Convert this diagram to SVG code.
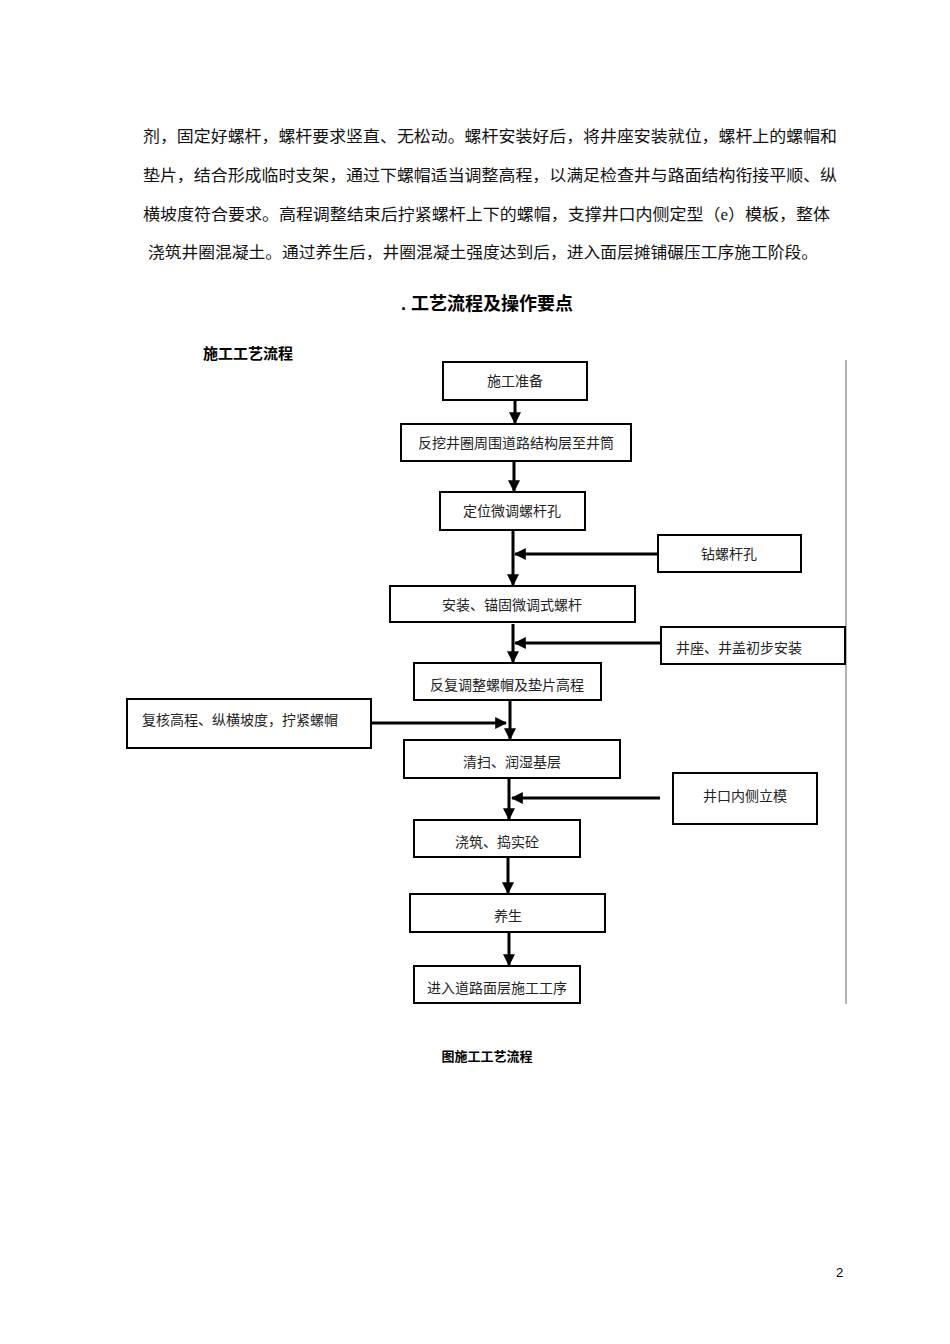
<svg xmlns="http://www.w3.org/2000/svg" width="950" height="1344" viewBox="0 0 950 1344">
<defs>
<style>
.b{fill:#fff;stroke:#000;stroke-width:2}
.t{font-family:"Liberation Serif","Noto Sans CJK SC",serif;font-size:14px;text-anchor:middle;fill:#222}
.p{font-family:"Liberation Serif","Noto Sans CJK SC",serif;font-size:16px;fill:#111}
.h{font-family:"Liberation Sans","Noto Sans CJK SC",sans-serif;font-weight:bold;fill:#000}
.c{stroke:#000;stroke-width:3;fill:none}
</style>
<marker id="a" viewBox="0 0 10 10" refX="9" refY="5" markerWidth="4" markerHeight="4" orient="auto" markerUnits="strokeWidth"><path d="M0,0 L10,5 L0,10 z" fill="#000"/></marker>
</defs>
<rect width="950" height="1344" fill="#fff"/>
<text class="p" x="143" y="142" textLength="694" lengthAdjust="spacingAndGlyphs">剂，固定好螺杆，螺杆要求竖直、无松动。螺杆安装好后，将井座安装就位，螺杆上的螺帽和</text>
<text class="p" x="143" y="181" textLength="694" lengthAdjust="spacingAndGlyphs">垫片，结合形成临时支架，通过下螺帽适当调整高程，以满足检查井与路面结构衔接平顺、纵</text>
<text class="p" x="143" y="220" textLength="687" lengthAdjust="spacingAndGlyphs">横坡度符合要求。高程调整结束后拧紧螺杆上下的螺帽，支撑井口内侧定型（e）模板，整体</text>
<text class="p" x="148" y="258" textLength="670" lengthAdjust="spacingAndGlyphs">浇筑井圈混凝土。通过养生后，井圈混凝土强度达到后，进入面层摊铺碾压工序施工阶段。</text>
<text class="h" x="487" y="310" font-size="18" text-anchor="middle">. 工艺流程及操作要点</text>
<text class="h" x="203" y="359" font-size="15">施工工艺流程</text>
<line x1="846" y1="360" x2="846" y2="1004" stroke="#999" stroke-width="1.5"/>
<g id="connectors">
<line class="c" x1="515" y1="400" x2="515" y2="423" marker-end="url(#a)"/>
<line class="c" x1="514" y1="461" x2="514" y2="491" marker-end="url(#a)"/>
<line class="c" x1="513" y1="530" x2="513" y2="585" marker-end="url(#a)"/>
<line class="c" x1="657" y1="554" x2="515" y2="554" marker-end="url(#a)"/>
<line class="c" x1="513" y1="624" x2="513" y2="662" marker-end="url(#a)"/>
<line class="c" x1="660" y1="643" x2="515" y2="643" marker-end="url(#a)"/>
<line class="c" x1="510" y1="700" x2="510" y2="739" marker-end="url(#a)"/>
<line class="c" x1="371" y1="723" x2="506" y2="723" marker-end="url(#a)"/>
<line class="c" x1="509" y1="778" x2="509" y2="819" marker-end="url(#a)"/>
<line class="c" x1="660" y1="798" x2="512" y2="798" marker-end="url(#a)"/>
<line class="c" x1="508" y1="857" x2="508" y2="893" marker-end="url(#a)"/>
<line class="c" x1="509" y1="932" x2="509" y2="965" marker-end="url(#a)"/>
</g>
<g id="n1"><rect class="b" x="443" y="362" width="144" height="38"/><text class="t" x="515" y="386">施工准备</text></g>
<g id="n2"><rect class="b" x="401" y="424" width="230" height="37"/><text class="t" x="516" y="448">反挖井圈周围道路结构层至井筒</text></g>
<g id="n3"><rect class="b" x="440" y="492" width="145" height="38"/><text class="t" x="512" y="516">定位微调螺杆孔</text></g>
<g id="n4"><rect class="b" x="658" y="535" width="143" height="37"/><text class="t" x="729" y="559">钻螺杆孔</text></g>
<g id="n5"><rect class="b" x="390" y="586" width="245" height="36"/><text class="t" x="512" y="610">安装、锚固微调式螺杆</text></g>
<g id="n6"><rect class="b" x="661" y="627" width="184" height="37"/><text class="t" x="739" y="653">井座、井盖初步安装</text></g>
<g id="n7"><rect class="b" x="414" y="663" width="187" height="37"/><text class="t" x="507" y="690">反复调整螺帽及垫片高程</text></g>
<g id="n8"><rect class="b" x="127" y="699" width="244" height="49"/><text class="t" x="240" y="725">复核高程、纵横坡度，拧紧螺帽</text></g>
<g id="n9"><rect class="b" x="404" y="740" width="216" height="38"/><text class="t" x="512" y="767">清扫、润湿基层</text></g>
<g id="n10"><rect class="b" x="673" y="773" width="144" height="51"/><text class="t" x="745" y="801">井口内侧立模</text></g>
<g id="n11"><rect class="b" x="414" y="820" width="166" height="37"/><text class="t" x="497" y="847">浇筑、捣实砼</text></g>
<g id="n12"><rect class="b" x="410" y="894" width="195" height="38"/><text class="t" x="508" y="921">养生</text></g>
<g id="n13"><rect class="b" x="414" y="966" width="166" height="37"/><text class="t" x="497" y="993">进入道路面层施工工序</text></g>
<text class="h" x="487" y="1061" font-size="13" text-anchor="middle">图施工工艺流程</text>
<text x="836" y="1277" font-family="Liberation Sans,sans-serif" font-size="13">2</text>
</svg>
